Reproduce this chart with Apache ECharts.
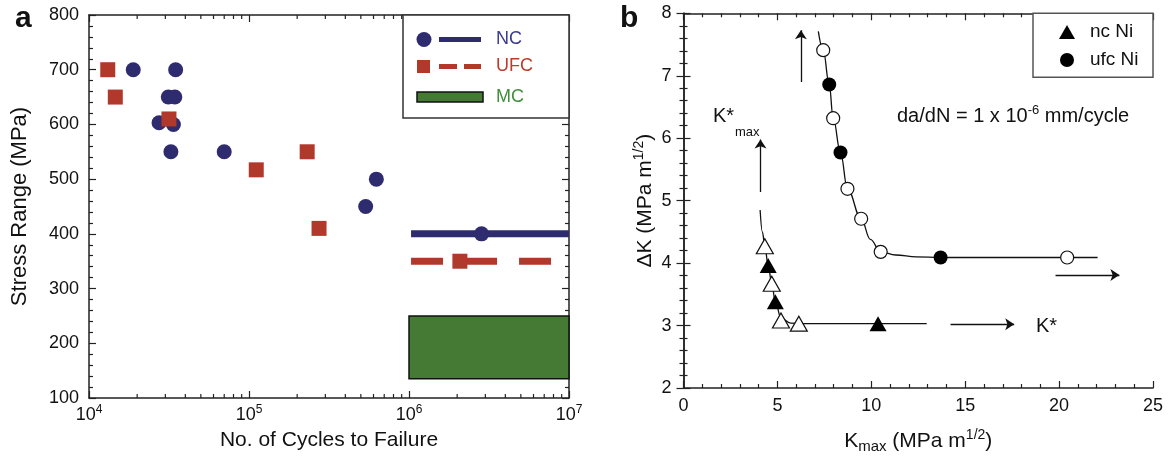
<!DOCTYPE html>
<html>
<head>
<meta charset="utf-8">
<script src="https://cdn.jsdelivr.net/npm/echarts@6/dist/echarts.min.js"></script>
<style>
html,body{margin:0;padding:0;background:#fff;}
#c{width:1172px;height:459px;}
</style>
</head>
<body>
<div id="c"></div>
<script>
// ---------- Panel a data ----------
const ncCycles = [1.89e4, 3.48e4, 3.13e4, 3.44e4, 2.74e4, 3.37e4, 3.25e4, 7.0e4, 5.36e5, 6.25e5, 2.84e6];
const ncStress = [700, 700, 650, 650, 603, 600, 550, 550, 450, 500, 400];
const ufcCycles = [1.31e4, 1.46e4, 3.16e4, 1.11e5, 2.31e5, 2.74e5, 2.08e6];
const ufcStress = [700, 650, 610, 517, 550, 410, 350];
const ncLimitX = [1.03e6, 1e7];
const ncLimitY = 400;
const ufcLimitX = [1.03e6, 1e7];
const ufcLimitY = 350;
const mcBandX = [1e6, 1e7];
const mcBandY = [135, 250];
const aMinorTicks = [2e4,3e4,4e4,5e4,6e4,7e4,8e4,9e4,2e5,3e5,4e5,5e5,6e5,7e5,8e5,9e5,2e6,3e6,4e6,5e6,6e6,7e6,8e6,9e6];

// ---------- Panel b data ----------
const ncOpen = [[4.33, 4.27], [4.70, 3.67], [5.19, 3.08], [6.14, 3.03]];
const ncFilled = [[4.51, 3.96], [4.89, 3.38], [10.36, 3.03]];
const ufcOpen = [[7.44, 7.41], [7.97, 6.32], [8.73, 5.19], [9.46, 4.71], [10.50, 4.18], [20.43, 4.09]];
const ufcFilled = [[7.76, 6.86], [8.36, 5.77], [13.69, 4.09]];
const ncCurve = [[4.08, 4.85], [4.20, 4.50], [4.33, 4.27], [4.51, 3.96], [4.70, 3.67], [4.89, 3.38], [5.19, 3.12], [5.7, 3.04], [6.5, 3.03], [12.95, 3.03]];
const ufcCurve = [[7.18, 7.71], [7.44, 7.41], [7.76, 6.86], [7.97, 6.32], [8.36, 5.77], [8.73, 5.19], [9.46, 4.71], [9.95, 4.38], [10.50, 4.18], [11.3, 4.13], [12.4, 4.10], [13.69, 4.09], [22.05, 4.09]];
const arrows = [
  [[6.25, 6.90], [6.25, 7.73]],
  [[4.10, 5.14], [4.10, 5.98]],
  [[19.81, 3.81], [23.21, 3.81]],
  [[14.22, 3.02], [17.61, 3.02]]
];

const NAVY = '#2f2b6f';
const RED = '#b0392c';
const GREEN = '#457a35';
const FONT = '"Liberation Sans", Arial, sans-serif';

const chart = echarts.init(document.getElementById('c'), null, {renderer: 'canvas'});

const tickLabel = {color: '#111', fontSize: 18, fontFamily: FONT};
const axisLine = {show: true, lineStyle: {color: '#222', width: 1.5}};

function mirrorX(grid, min, max, type, extra) {
  return Object.assign({
    type: type, gridIndex: grid, position: 'top', min: min, max: max,
    axisLine: axisLine, axisLabel: {show: false},
    axisTick: {show: true, inside: true, length: 7, lineStyle: {color: '#222', width: 1.2}},
    splitLine: {show: false}
  }, extra || {});
}

const option = {
  animation: false,
  backgroundColor: '#fff',
  textStyle: {fontFamily: FONT},
  grid: [
    {left: 89, right: 603, top: 15, bottom: 61},
    {left: 683.5, right: 19, top: 13.3, bottom: 69.7}
  ],
  xAxis: [
    {
      type: 'log', logBase: 10, gridIndex: 0, min: 1e4, max: 1e7, position: 'bottom',
      axisLine: axisLine,
      axisTick: {show: true, inside: true, length: 7, lineStyle: {color: '#222', width: 1.2}},
      splitLine: {show: false},
      axisLabel: {
        margin: 6,
        formatter: function (v) { return '{b|10}{s|' + Math.round(Math.log10(v)) + '}'; },
        rich: {
          b: {fontSize: 18, color: '#111', fontFamily: FONT, lineHeight: 22},
          s: {fontSize: 12, color: '#111', fontFamily: FONT, verticalAlign: 'top', lineHeight: 14}
        }
      },
      name: 'No. of Cycles to Failure', nameLocation: 'middle', nameGap: 32,
      nameTextStyle: {fontSize: 21, color: '#111', fontFamily: FONT}
    },
    mirrorX(0, 1e4, 1e7, 'log', {logBase: 10}),
    {
      type: 'value', gridIndex: 1, min: 0, max: 25, interval: 5, position: 'bottom',
      axisLine: axisLine,
      axisTick: {show: true, inside: true, length: 7, lineStyle: {color: '#222', width: 1.2}},
      minorTick: {show: true, splitNumber: 5, length: 4, lineStyle: {color: '#222', width: 1.2}},
      splitLine: {show: false}, minorSplitLine: {show: false},
      axisLabel: Object.assign({margin: 9}, tickLabel),
      name: '{t|K}{sub|max}{t| (MPa m}{sup|1/2}{t|)}', nameLocation: 'middle', nameGap: 40,
      nameTextStyle: {
        rich: {
          t: {fontSize: 21, color: '#111', fontFamily: FONT, lineHeight: 26},
          sub: {fontSize: 15, color: '#111', fontFamily: FONT, verticalAlign: 'bottom', lineHeight: 18},
          sup: {fontSize: 14, color: '#111', fontFamily: FONT, verticalAlign: 'top', lineHeight: 16}
        }
      }
    },
    mirrorX(1, 0, 25, 'value', {
      interval: 5,
      minorTick: {show: true, splitNumber: 5, length: 4, lineStyle: {color: '#222', width: 1.2}},
      minorSplitLine: {show: false}
    })
  ],
  yAxis: [
    {
      type: 'value', gridIndex: 0, min: 100, max: 800, interval: 100,
      axisLine: axisLine,
      axisTick: {show: true, inside: true, length: 7, lineStyle: {color: '#222', width: 1.2}},
      minorTick: {show: true, splitNumber: 5, length: 4, lineStyle: {color: '#222', width: 1.2}},
      splitLine: {show: false}, minorSplitLine: {show: false},
      axisLabel: Object.assign({margin: 10}, tickLabel),
      name: 'Stress Range (MPa)', nameLocation: 'middle', nameGap: 58, nameRotate: 90,
      nameTextStyle: {fontSize: 22, color: '#111', fontFamily: FONT}
    },
    {
      type: 'value', gridIndex: 0, min: 100, max: 800, interval: 100, position: 'right',
      axisLine: axisLine, axisLabel: {show: false},
      axisTick: {show: true, inside: true, length: 7, lineStyle: {color: '#222', width: 1.2}},
      minorTick: {show: true, splitNumber: 5, length: 4, lineStyle: {color: '#222', width: 1.2}},
      splitLine: {show: false}, minorSplitLine: {show: false}
    },
    {
      type: 'value', gridIndex: 1, min: 2, max: 8, interval: 1,
      axisLine: axisLine,
      axisTick: {show: true, inside: true, length: 7, lineStyle: {color: '#222', width: 1.2}},
      minorTick: {show: true, splitNumber: 5, length: 4, lineStyle: {color: '#222', width: 1.2}},
      splitLine: {show: false}, minorSplitLine: {show: false},
      axisLabel: Object.assign({margin: 12}, tickLabel),
      name: '{t|ΔK (MPa m}{sup|1/2}{t|)}', nameLocation: 'middle', nameGap: 25, nameRotate: 90,
      nameTextStyle: {
        rich: {
          t: {fontSize: 21, color: '#111', fontFamily: FONT, lineHeight: 26},
          sup: {fontSize: 14, color: '#111', fontFamily: FONT, verticalAlign: 'top', lineHeight: 16}
        }
      }
    },
    {
      type: 'value', gridIndex: 1, min: 2, max: 8, interval: 1, position: 'right',
      axisLine: axisLine, axisLabel: {show: false},
      axisTick: {show: true, inside: true, length: 7, lineStyle: {color: '#222', width: 1.2}},
      minorTick: {show: true, splitNumber: 5, length: 4, lineStyle: {color: '#222', width: 1.2}},
      splitLine: {show: false}, minorSplitLine: {show: false}
    }
  ],
  series: [
    // minor log ticks, panel a (bottom and top)
    {
      type: 'custom', xAxisIndex: 0, yAxisIndex: 0, silent: true, clip: false, z: 1,
      data: aMinorTicks.map(v => [v]),
      renderItem: function (params, api) {
        const b = api.coord([api.value(0), 100]);
        const t = api.coord([api.value(0), 800]);
        const st = {stroke: '#222', lineWidth: 1.2};
        return {type: 'group', children: [
          {type: 'line', shape: {x1: b[0], y1: b[1], x2: b[0], y2: b[1] - 4}, style: st},
          {type: 'line', shape: {x1: t[0], y1: t[1], x2: t[0], y2: t[1] + 4}, style: st}
        ]};
      }
    },
    // NC endurance line + MC band
    {
      type: 'line', xAxisIndex: 0, yAxisIndex: 0, symbol: 'none', z: 3,
      data: ncLimitX.map(x => [x, ncLimitY]),
      lineStyle: {color: NAVY, width: 7},
      markArea: {
        silent: true,
        itemStyle: {color: GREEN, borderColor: '#111', borderWidth: 1.5},
        data: [[{coord: [mcBandX[0], mcBandY[1]]}, {coord: [mcBandX[1], mcBandY[0]]}]]
      }
    },
    {
      type: 'line', xAxisIndex: 0, yAxisIndex: 0, symbol: 'none', z: 3,
      data: ufcLimitX.map(x => [x, ufcLimitY]),
      lineStyle: {color: RED, width: 7, type: [32, 22], cap: 'butt'}
    },
    {
      type: 'scatter', xAxisIndex: 0, yAxisIndex: 0, symbol: 'circle', symbolSize: 15, z: 4,
      data: ncCycles.map((x, i) => [x, ncStress[i]]),
      itemStyle: {color: NAVY, opacity: 1}
    },
    {
      type: 'scatter', xAxisIndex: 0, yAxisIndex: 0, symbol: 'rect', symbolSize: 15, z: 5,
      data: ufcCycles.map((x, i) => [x, ufcStress[i]]),
      itemStyle: {color: RED, opacity: 1}
    },
    // Panel b curves
    {
      type: 'line', xAxisIndex: 2, yAxisIndex: 2, symbol: 'none', smooth: 0.4, smoothMonotone: 'x', z: 2,
      data: ncCurve, lineStyle: {color: '#111', width: 1.3}
    },
    {
      type: 'line', xAxisIndex: 2, yAxisIndex: 2, symbol: 'none', smooth: 0.4, smoothMonotone: 'x', z: 2,
      data: ufcCurve, lineStyle: {color: '#111', width: 1.3}
    },
    {
      type: 'lines', coordinateSystem: 'cartesian2d', xAxisIndex: 2, yAxisIndex: 2, z: 2,
      symbol: ['none', 'arrow'], symbolSize: [0, 9],
      lineStyle: {color: '#111', width: 1.3, opacity: 1},
      data: arrows.map(a => ({coords: a}))
    },
    {
      type: 'scatter', xAxisIndex: 2, yAxisIndex: 2, symbol: 'triangle', symbolSize: [17, 15], z: 4,
      data: ncOpen, itemStyle: {color: '#fff', borderColor: '#111', borderWidth: 1.2, opacity: 1}
    },
    {
      type: 'scatter', xAxisIndex: 2, yAxisIndex: 2, symbol: 'triangle', symbolSize: [17, 15], z: 4,
      data: ncFilled, itemStyle: {color: '#000', opacity: 1}
    },
    {
      type: 'scatter', xAxisIndex: 2, yAxisIndex: 2, symbol: 'circle', symbolSize: 13, z: 4,
      data: ufcOpen, itemStyle: {color: '#fff', borderColor: '#111', borderWidth: 1.2, opacity: 1}
    },
    {
      type: 'scatter', xAxisIndex: 2, yAxisIndex: 2, symbol: 'circle', symbolSize: 14, z: 4,
      data: ufcFilled, itemStyle: {color: '#000', opacity: 1}
    }
  ],
  graphic: [
    // panel labels
    {type: 'text', left: 15, top: 4, style: {text: 'a', font: 'bold 30px ' + FONT, fill: '#111'}},
    {type: 'text', left: 620, top: 4, style: {text: 'b', font: 'bold 30px ' + FONT, fill: '#111'}},
    // legend a
    {type: 'rect', shape: {x: 403, y: 15, width: 166, height: 103}, style: {fill: '#fff', stroke: '#333', lineWidth: 1.5}, z: 10},
    {type: 'circle', shape: {cx: 424, cy: 39.5, r: 7.5}, style: {fill: NAVY}, z: 11},
    {type: 'line', shape: {x1: 439, y1: 39.5, x2: 481, y2: 39.5}, style: {stroke: NAVY, lineWidth: 5}, z: 11},
    {type: 'text', x: 496, y: 39.5, style: {text: 'NC', font: '18px ' + FONT, fill: '#3b3990', verticalAlign: 'middle'}, z: 11},
    {type: 'rect', shape: {x: 417, y: 60, width: 13, height: 13}, style: {fill: RED}, z: 11},
    {type: 'line', shape: {x1: 439, y1: 66.5, x2: 457, y2: 66.5}, style: {stroke: RED, lineWidth: 5}, z: 11},
    {type: 'line', shape: {x1: 464, y1: 66.5, x2: 481, y2: 66.5}, style: {stroke: RED, lineWidth: 5}, z: 11},
    {type: 'text', x: 496, y: 66.5, style: {text: 'UFC', font: '18px ' + FONT, fill: '#c0392b', verticalAlign: 'middle'}, z: 11},
    {type: 'rect', shape: {x: 417, y: 92, width: 66, height: 10}, style: {fill: GREEN, stroke: '#111', lineWidth: 1.5}, z: 11},
    {type: 'text', x: 496, y: 97, style: {text: 'MC', font: '18px ' + FONT, fill: '#3f8f3a', verticalAlign: 'middle'}, z: 11},
    // legend b
    {type: 'rect', shape: {x: 1033, y: 13.3, width: 120, height: 64}, style: {fill: '#fff', stroke: '#555', lineWidth: 1.5}, z: 10},
    {type: 'polygon', shape: {points: [[1059, 39], [1075, 39], [1067, 25]]}, style: {fill: '#000'}, z: 11},
    {type: 'text', x: 1090, y: 32, style: {text: 'nc Ni', font: '19px ' + FONT, fill: '#111', verticalAlign: 'middle'}, z: 11},
    {type: 'circle', shape: {cx: 1067, cy: 60, r: 7}, style: {fill: '#000'}, z: 11},
    {type: 'text', x: 1090, y: 60, style: {text: 'ufc Ni', font: '19px ' + FONT, fill: '#111', verticalAlign: 'middle'}, z: 11},
    // annotations b
    {type: 'text', x: 713, y: 116, style: {text: 'K*', font: '20px ' + FONT, fill: '#111', verticalAlign: 'middle'}, z: 11},
    {type: 'text', x: 735, y: 132, style: {text: 'max', font: '13px ' + FONT, fill: '#111', verticalAlign: 'middle'}, z: 11},
    {type: 'text', x: 897, y: 116, z: 11, style: {
      text: '{t|da/dN = 1 x 10}{s|-6}{t| mm/cycle}', verticalAlign: 'middle',
      rich: {
        t: {fontSize: 20, fontFamily: FONT, fill: '#111', lineHeight: 24},
        s: {fontSize: 13, fontFamily: FONT, fill: '#111', verticalAlign: 'top', lineHeight: 14}
      }
    }},
    {type: 'text', x: 1036, y: 326, style: {text: 'K*', font: '20px ' + FONT, fill: '#111', verticalAlign: 'middle'}, z: 11}
  ]
};

chart.setOption(option);
</script>
</body>
</html>
